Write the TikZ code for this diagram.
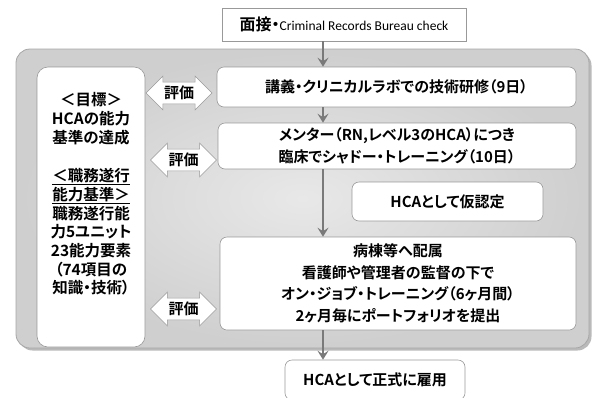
\documentclass[tikz,border=0pt]{standalone}
\usepackage{fontspec}
\setmainfont{Noto Sans CJK JP}[BoldFont={Noto Sans CJK JP Bold},RawFeature=+palt]
\newfontfamily\latinfont{Carlito}
\usetikzlibrary{shapes.arrows,shadows,arrows.meta}
\tikzset{
  panel/.style={draw=black!35, rounded corners=14pt, line width=0.8pt,
    inner color=black!9, outer color=black!19,
    minimum width=573pt, minimum height=299pt,
    drop shadow={shadow xshift=2.5pt, shadow yshift=-2.5pt, fill=black!45, opacity=0.6}},
  card/.style={draw=black!40, fill=white, rounded corners=7pt, line width=0.6pt,
    align=center, inner sep=2pt, font=\fontsize{15}{21.5}\selectfont\bfseries},
  goaltext/.style={align=center, inner sep=0pt, font=\fontsize{15.5}{18.7}\selectfont\bfseries},
  evalarrow/.style={double arrow, draw=black!40, fill=white, line width=0.6pt,
    double arrow head extend=6pt, inner xsep=2pt, inner ysep=3.5pt, minimum height=66pt,
    font=\fontsize{15}{17}\selectfont\bfseries},
  flow/.style={draw=black!52, line width=2.4pt,
    -{Stealth[length=9pt,width=11pt,inset=3.5pt]}}
}
\begin{document}
\begin{tikzpicture}[x=1pt,y=-1pt]
  \useasboundingbox (0,0) rectangle (596,397);
  \node[panel] (panel) at (302.5,198.5) {};
  \draw
    (344,24.5) node[card, rounded corners=0pt, minimum width=244pt, minimum height=33pt] (interview)
      {{\fontsize{16}{18}\selectfont 面接・}{\latinfont\mdseries\fontsize{13.5}{15}\selectfont Criminal Records Bureau check}}
    (91,207) node[card, rounded corners=11pt, minimum width=108pt, minimum height=280pt] (goal) {}
    (91,194) node[goaltext] (goalnote)
      {＜目標＞\\HCAの能力\\基準の達成\\[20pt]\underline{＜職務遂行}\\\underline{能力基準＞}\\職務遂行能\\力5ユニット\\23能力要素\\（74項目の\\知識・技術）}
    (396.5,87) node[card, minimum width=359pt, minimum height=40pt] (lect)
      {講義・クリニカルラボでの技術研修（9日）}
    (397,146) node[card, minimum width=358pt, minimum height=46pt] (mentor)
      {メンター（RN,レベル3のHCA）につき\\臨床でシャドー・トレーニング（10日）}
    (447.5,201.5) node[card, minimum width=191pt, minimum height=39pt] (prov)
      {HCAとして仮認定}
    (398,283.5) node[card, minimum width=356pt, minimum height=93pt] (ward)
      {病棟等へ配属\\看護師や管理者の監督の下で\\オン・ジョブ・トレーニング（6ヶ月間）\\2ヶ月毎にポートフォリオを提出}
    (375,380) node[card, minimum width=180pt, minimum height=40pt] (hire)
      {HCAとして正式に雇用}
    (179,93) node[evalarrow] (eval1) {評価}
    (183.5,160) node[evalarrow] (eval2) {評価}
    (183.5,309) node[evalarrow] (eval3) {評価};
  \coordinate (spine) at (323,0);
  \begin{scope}[flow]
    \draw (interview.south -| spine) to (lect.north -| spine);
    \draw (lect.south -| spine) to (mentor.north -| spine);
    \draw (mentor.south -| spine) to (ward.north -| spine);
    \draw (ward.south -| spine) to (hire.north -| spine);
  \end{scope}
\end{tikzpicture}
\end{document}
